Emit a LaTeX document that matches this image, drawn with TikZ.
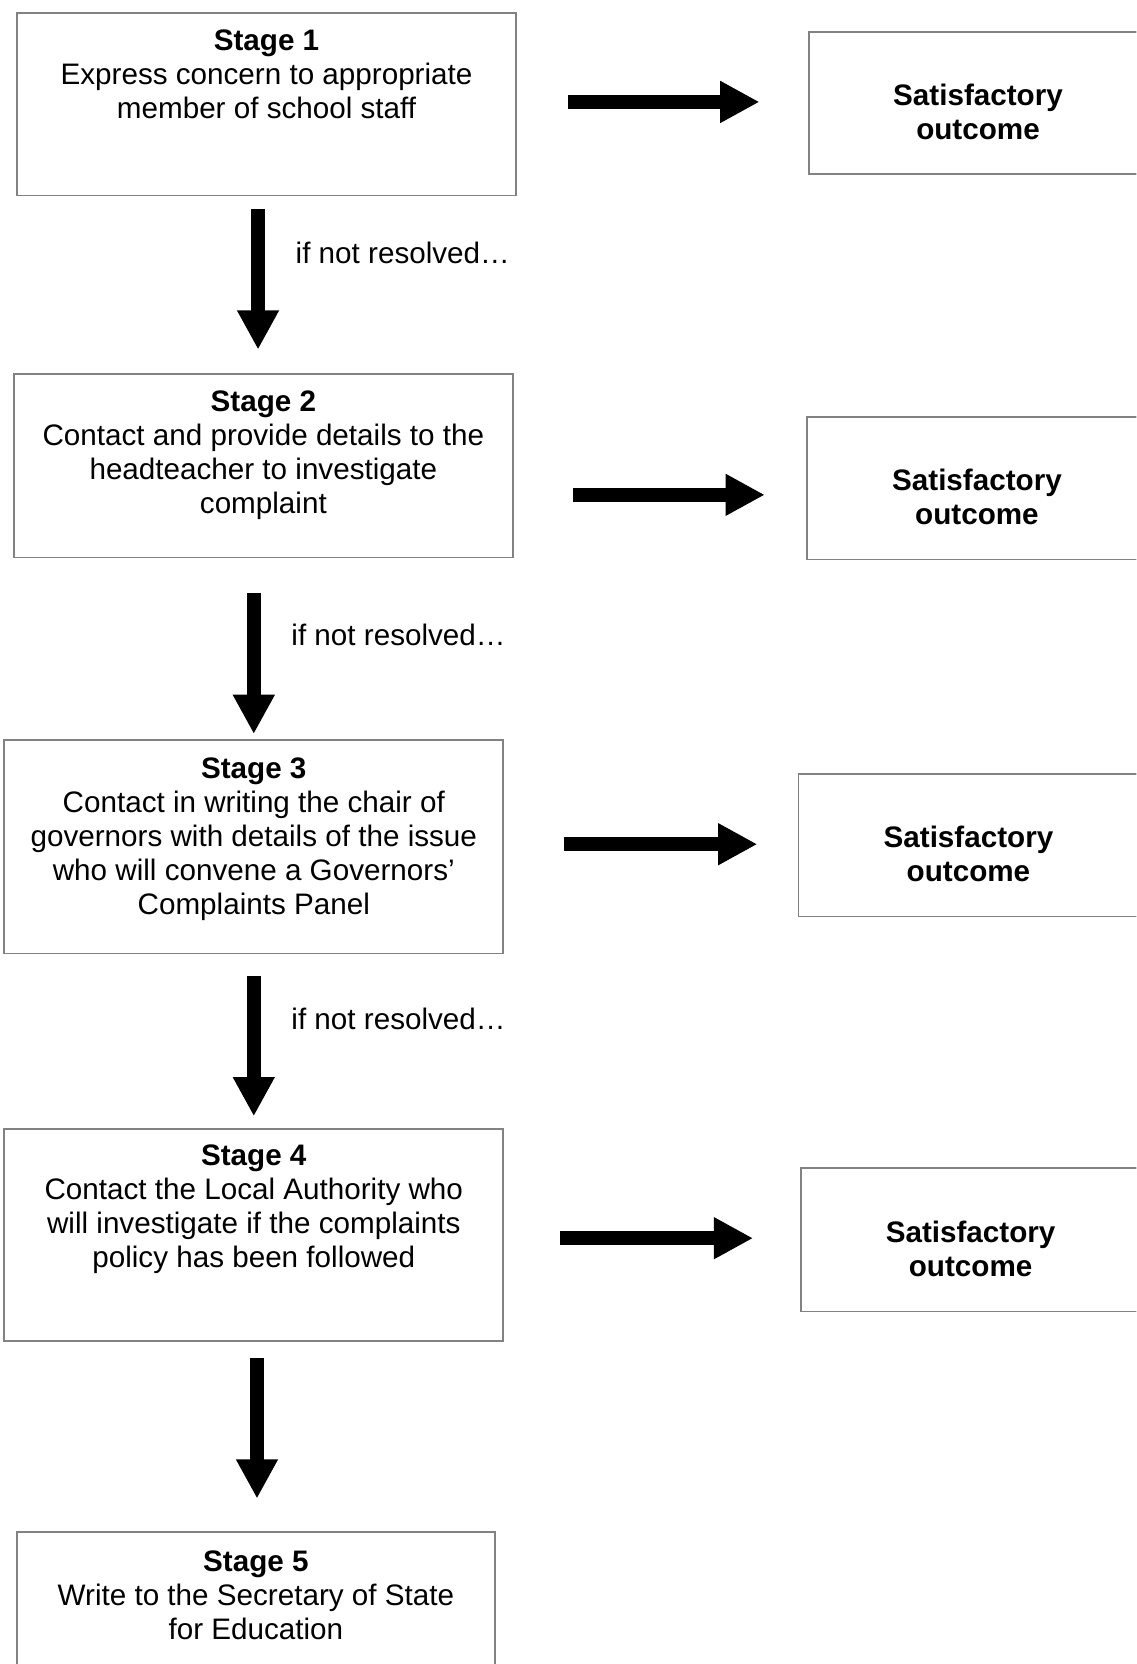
\documentclass[tikz,border=0pt]{standalone}
\usepackage{fontspec}
\setmainfont{Liberation Sans}
\usetikzlibrary{arrows.meta,positioning,calc}

\definecolor{boxgray}{RGB}{130,130,130}
\newcommand{\px}{0.43pt}

\tikzset{
    stagebox/.style={draw=boxgray, line width=0.7pt, inner sep=0pt},
    stagetext/.style={align=center, inner sep=0pt, font=\fontsize{12}{13.8}\selectfont},
    outtext/.style={stagetext, font=\fontsize{12}{13.8}\selectfont\bfseries},
    flow/.style={line width=5.5pt, -{Triangle[width=15.9pt,length=15.9pt]}},
    note/.style={anchor=west, inner sep=0pt, xshift=12.5pt, font=\fontsize{12}{13.8}\selectfont}
}

\begin{document}
\begin{tikzpicture}[x=\px, y=-\px]
    \useasboundingbox (0,0) rectangle (1070,1567);
    \clip (0,0) rectangle (1070,1567);

    % stages
    \node[stagebox, minimum width=470*\px, minimum height=172*\px] (s1) at (251,98) {};
    \node[stagetext, below=7.1pt of s1.north] (t1) {\textbf{Stage 1}\\Express concern to appropriate\\member of school staff};
    \node[stagebox, minimum width=470*\px, minimum height=173*\px] (s2) at (248,438.5) {};
    \node[stagetext, below=7.1pt of s2.north] (t2) {\textbf{Stage 2}\\Contact and provide details to the\\headteacher to investigate\\complaint};
    \node[stagebox, minimum width=470*\px, minimum height=201*\px] (s3) at (239,797.5) {};
    \node[stagetext, below=7.1pt of s3.north] (t3) {\textbf{Stage 3}\\Contact in writing the chair of\\governors with details of the issue\\who will convene a Governors’\\Complaints Panel};
    \node[stagebox, minimum width=470*\px, minimum height=200*\px] (s4) at (239,1163) {};
    \node[stagetext, below=6.7pt of s4.north] (t4) {\textbf{Stage 4}\\Contact the Local Authority who\\will investigate if the complaints\\policy has been followed};
    \node[stagebox, minimum width=450*\px, minimum height=157*\px] (s5) at (241,1521.5) {};
    \node[stagetext, below=7.5pt of s5.north] (t5) {\textbf{Stage 5}\\Write to the Secretary of State\\for Education};

    % outcomes
    \node[stagebox, minimum width=318*\px, minimum height=134*\px] (o1) at (921,97) {};
    \node[outtext, below=21.3pt of o1.north] (u1) {Satisfactory\\outcome};
    \node[stagebox, minimum width=320*\px, minimum height=134*\px] (o2) at (920,460) {};
    \node[outtext, below=20.9pt of o2.north] (u2) {Satisfactory\\outcome};
    \node[stagebox, minimum width=320*\px, minimum height=134*\px] (o3) at (912,796) {};
    \node[outtext, below=21.3pt of o3.north] (u3) {Satisfactory\\outcome};
    \node[stagebox, minimum width=320*\px, minimum height=135*\px] (o4) at (914,1167.5) {};
    \node[outtext, below=21.7pt of o4.north] (u4) {Satisfactory\\outcome};

    % arrows to outcomes
    \draw[flow] ($(s1.east)+(48,-2)$) -- ($(o1.west)+(-46,-1)$);
    \draw[flow] ($(s2.east)+(56,27.5)$) -- ($(o2.west)+(-39,6)$);
    \draw[flow] ($(s3.east)+(56,-2.5)$) -- ($(o3.west)+(-38,-1)$);
    \draw[flow] ($(s4.east)+(53,3)$) -- ($(o4.west)+(-44,-1.5)$);

    % arrows down
    \draw[flow] ($(s1.south)+(-8,12)$) -- node[note, pos=0.31] {if not resolved…} ($(s2.north)+(-5,-22)$);
    \draw[flow] ($(s2.south)+(-9,32.5)$) -- node[note, pos=0.30] {if not resolved…} ($(s3.north)+(0,-5)$);
    \draw[flow] ($(s3.south)+(0,20)$) -- node[note, pos=0.31] {if not resolved…} ($(s4.north)+(0,-11)$);
    \draw[flow] ($(s4.south)+(3,15)$) -- ($(s5.north)+(1,-31)$);
\end{tikzpicture}
\end{document}
